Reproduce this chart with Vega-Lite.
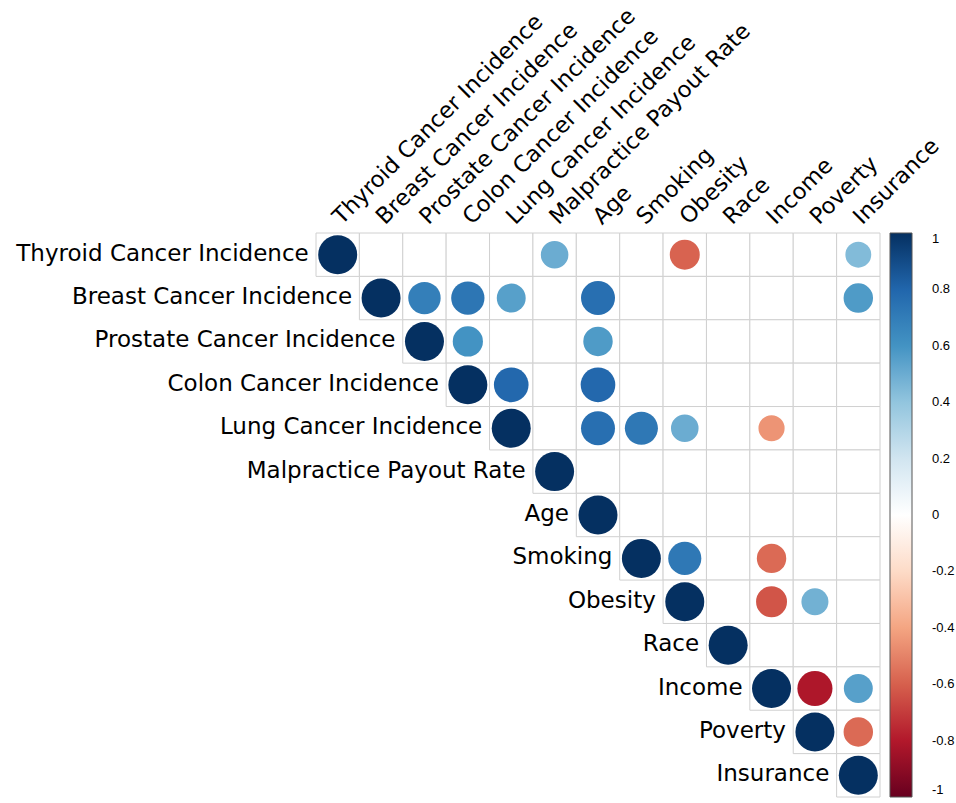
{
  "$schema": "https://vega.github.io/schema/vega-lite/v6.json",
  "width": 564,
  "height": 564,
  "autosize": {"type": "none"},
  "padding": {"left": 316, "top": 233, "right": 76, "bottom": 6},
  "background": "white",
  "config": {"view": {"stroke": null}, "font": "DejaVu Sans"},
  "datasets": {
    "vars": [
      {"name": "Thyroid Cancer Incidence"},
      {"name": "Breast Cancer Incidence"},
      {"name": "Prostate Cancer Incidence"},
      {"name": "Colon Cancer Incidence"},
      {"name": "Lung Cancer Incidence"},
      {"name": "Malpractice Payout Rate"},
      {"name": "Age"},
      {"name": "Smoking"},
      {"name": "Obesity"},
      {"name": "Race"},
      {"name": "Income"},
      {"name": "Poverty"},
      {"name": "Insurance"}
    ],
    "cells": [
      {"row": "Thyroid Cancer Incidence", "col": "Thyroid Cancer Incidence", "r": 1},
      {"row": "Thyroid Cancer Incidence", "col": "Breast Cancer Incidence", "r": null},
      {"row": "Thyroid Cancer Incidence", "col": "Prostate Cancer Incidence", "r": null},
      {"row": "Thyroid Cancer Incidence", "col": "Colon Cancer Incidence", "r": null},
      {"row": "Thyroid Cancer Incidence", "col": "Lung Cancer Incidence", "r": null},
      {"row": "Thyroid Cancer Incidence", "col": "Malpractice Payout Rate", "r": 0.5},
      {"row": "Thyroid Cancer Incidence", "col": "Age", "r": null},
      {"row": "Thyroid Cancer Incidence", "col": "Smoking", "r": null},
      {"row": "Thyroid Cancer Incidence", "col": "Obesity", "r": -0.59},
      {"row": "Thyroid Cancer Incidence", "col": "Race", "r": null},
      {"row": "Thyroid Cancer Incidence", "col": "Income", "r": null},
      {"row": "Thyroid Cancer Incidence", "col": "Poverty", "r": null},
      {"row": "Thyroid Cancer Incidence", "col": "Insurance", "r": 0.44},
      {"row": "Breast Cancer Incidence", "col": "Breast Cancer Incidence", "r": 1},
      {"row": "Breast Cancer Incidence", "col": "Prostate Cancer Incidence", "r": 0.69},
      {"row": "Breast Cancer Incidence", "col": "Colon Cancer Incidence", "r": 0.73},
      {"row": "Breast Cancer Incidence", "col": "Lung Cancer Incidence", "r": 0.55},
      {"row": "Breast Cancer Incidence", "col": "Malpractice Payout Rate", "r": null},
      {"row": "Breast Cancer Incidence", "col": "Age", "r": 0.76},
      {"row": "Breast Cancer Incidence", "col": "Smoking", "r": null},
      {"row": "Breast Cancer Incidence", "col": "Obesity", "r": null},
      {"row": "Breast Cancer Incidence", "col": "Race", "r": null},
      {"row": "Breast Cancer Incidence", "col": "Income", "r": null},
      {"row": "Breast Cancer Incidence", "col": "Poverty", "r": null},
      {"row": "Breast Cancer Incidence", "col": "Insurance", "r": 0.57},
      {"row": "Prostate Cancer Incidence", "col": "Prostate Cancer Incidence", "r": 1},
      {"row": "Prostate Cancer Incidence", "col": "Colon Cancer Incidence", "r": 0.6},
      {"row": "Prostate Cancer Incidence", "col": "Lung Cancer Incidence", "r": null},
      {"row": "Prostate Cancer Incidence", "col": "Malpractice Payout Rate", "r": null},
      {"row": "Prostate Cancer Incidence", "col": "Age", "r": 0.57},
      {"row": "Prostate Cancer Incidence", "col": "Smoking", "r": null},
      {"row": "Prostate Cancer Incidence", "col": "Obesity", "r": null},
      {"row": "Prostate Cancer Incidence", "col": "Race", "r": null},
      {"row": "Prostate Cancer Incidence", "col": "Income", "r": null},
      {"row": "Prostate Cancer Incidence", "col": "Poverty", "r": null},
      {"row": "Prostate Cancer Incidence", "col": "Insurance", "r": null},
      {"row": "Colon Cancer Incidence", "col": "Colon Cancer Incidence", "r": 1},
      {"row": "Colon Cancer Incidence", "col": "Lung Cancer Incidence", "r": 0.79},
      {"row": "Colon Cancer Incidence", "col": "Malpractice Payout Rate", "r": null},
      {"row": "Colon Cancer Incidence", "col": "Age", "r": 0.79},
      {"row": "Colon Cancer Incidence", "col": "Smoking", "r": null},
      {"row": "Colon Cancer Incidence", "col": "Obesity", "r": null},
      {"row": "Colon Cancer Incidence", "col": "Race", "r": null},
      {"row": "Colon Cancer Incidence", "col": "Income", "r": null},
      {"row": "Colon Cancer Incidence", "col": "Poverty", "r": null},
      {"row": "Colon Cancer Incidence", "col": "Insurance", "r": null},
      {"row": "Lung Cancer Incidence", "col": "Lung Cancer Incidence", "r": 1},
      {"row": "Lung Cancer Incidence", "col": "Malpractice Payout Rate", "r": null},
      {"row": "Lung Cancer Incidence", "col": "Age", "r": 0.76},
      {"row": "Lung Cancer Incidence", "col": "Smoking", "r": 0.72},
      {"row": "Lung Cancer Incidence", "col": "Obesity", "r": 0.5},
      {"row": "Lung Cancer Incidence", "col": "Race", "r": null},
      {"row": "Lung Cancer Incidence", "col": "Income", "r": -0.45},
      {"row": "Lung Cancer Incidence", "col": "Poverty", "r": null},
      {"row": "Lung Cancer Incidence", "col": "Insurance", "r": null},
      {"row": "Malpractice Payout Rate", "col": "Malpractice Payout Rate", "r": 1},
      {"row": "Malpractice Payout Rate", "col": "Age", "r": null},
      {"row": "Malpractice Payout Rate", "col": "Smoking", "r": null},
      {"row": "Malpractice Payout Rate", "col": "Obesity", "r": null},
      {"row": "Malpractice Payout Rate", "col": "Race", "r": null},
      {"row": "Malpractice Payout Rate", "col": "Income", "r": null},
      {"row": "Malpractice Payout Rate", "col": "Poverty", "r": null},
      {"row": "Malpractice Payout Rate", "col": "Insurance", "r": null},
      {"row": "Age", "col": "Age", "r": 1},
      {"row": "Age", "col": "Smoking", "r": null},
      {"row": "Age", "col": "Obesity", "r": null},
      {"row": "Age", "col": "Race", "r": null},
      {"row": "Age", "col": "Income", "r": null},
      {"row": "Age", "col": "Poverty", "r": null},
      {"row": "Age", "col": "Insurance", "r": null},
      {"row": "Smoking", "col": "Smoking", "r": 1},
      {"row": "Smoking", "col": "Obesity", "r": 0.72},
      {"row": "Smoking", "col": "Race", "r": null},
      {"row": "Smoking", "col": "Income", "r": -0.57},
      {"row": "Smoking", "col": "Poverty", "r": null},
      {"row": "Smoking", "col": "Insurance", "r": null},
      {"row": "Obesity", "col": "Obesity", "r": 1},
      {"row": "Obesity", "col": "Race", "r": null},
      {"row": "Obesity", "col": "Income", "r": -0.63},
      {"row": "Obesity", "col": "Poverty", "r": 0.48},
      {"row": "Obesity", "col": "Insurance", "r": null},
      {"row": "Race", "col": "Race", "r": 1},
      {"row": "Race", "col": "Income", "r": null},
      {"row": "Race", "col": "Poverty", "r": null},
      {"row": "Race", "col": "Insurance", "r": null},
      {"row": "Income", "col": "Income", "r": 1},
      {"row": "Income", "col": "Poverty", "r": -0.81},
      {"row": "Income", "col": "Insurance", "r": 0.55},
      {"row": "Poverty", "col": "Poverty", "r": 1},
      {"row": "Poverty", "col": "Insurance", "r": -0.57},
      {"row": "Insurance", "col": "Insurance", "r": 1}
    ]
  },
  "layer": [
    {
      "data": {"name": "cells"},
      "mark": {"type": "rect", "fill": "white", "stroke": "#d0d0d0", "strokeWidth": 1},
      "encoding": {
        "x": {
          "field": "col", "type": "nominal",
          "scale": {"domain": ["Thyroid Cancer Incidence", "Breast Cancer Incidence", "Prostate Cancer Incidence", "Colon Cancer Incidence", "Lung Cancer Incidence", "Malpractice Payout Rate", "Age", "Smoking", "Obesity", "Race", "Income", "Poverty", "Insurance"], "paddingInner": 0, "paddingOuter": 0},
          "axis": {"orient": "top", "title": null, "domain": false, "ticks": false, "grid": false, "labelAngle": -45, "labelAlign": "left", "labelBaseline": "alphabetic", "labelPadding": 8, "labelOffset": 4, "labelFontSize": 22.5, "labelFont": "DejaVu Sans", "labelColor": "black", "labelLimit": 600, "labelOverlap": false}
        },
        "y": {
          "field": "row", "type": "nominal",
          "scale": {"domain": ["Thyroid Cancer Incidence", "Breast Cancer Incidence", "Prostate Cancer Incidence", "Colon Cancer Incidence", "Lung Cancer Incidence", "Malpractice Payout Rate", "Age", "Smoking", "Obesity", "Race", "Income", "Poverty", "Insurance"], "paddingInner": 0, "paddingOuter": 0},
          "axis": null
        }
      }
    },
    {
      "data": {"name": "cells"},
      "transform": [{"filter": "isValid(datum.r)"}],
      "mark": {"type": "point", "shape": "circle", "filled": true, "opacity": 1},
      "encoding": {
        "x": {"field": "col", "type": "nominal"},
        "y": {"field": "row", "type": "nominal", "axis": null},
        "size": {"field": "r", "type": "quantitative", "scale": {"type": "linear", "domain": [-1, 0, 1], "range": [1521, 0, 1521]}, "legend": null},
        "color": {
          "field": "r", "type": "quantitative",
          "scale": {"type": "linear", "domain": [-1, -0.8, -0.6, -0.4, -0.2, 0, 0.2, 0.4, 0.6, 0.8, 1], "range": ["#67001F", "#B2182B", "#D6604D", "#F4A582", "#FDDBC7", "#FFFFFF", "#D1E5F0", "#92C5DE", "#4393C3", "#2166AC", "#053061"], "interpolate": "rgb"},
          "legend": {"orient": "none", "legendX": 574, "legendY": 0, "direction": "vertical", "title": null, "padding": 0, "gradientLength": 564, "gradientThickness": 22, "gradientStrokeColor": "#555555", "gradientStrokeWidth": 1, "values": [1, 0.8, 0.6, 0.4, 0.2, 0, -0.2, -0.4, -0.6, -0.8, -1], "labelFont": "Liberation Sans", "labelFontSize": 13, "labelColor": "black", "labelAlign": "center", "labelBaseline": "middle", "labelOffset": 20, "labelOverlap": false, "labelExpr": "datum.value < 0 ? '-' + format(-datum.value, '') : format(datum.value, '')"}
        }
      }
    },
    {
      "data": {"name": "vars"},
      "mark": {"type": "text", "align": "right", "baseline": "middle", "dx": -29, "dy": -1, "fontSize": 23, "font": "DejaVu Sans", "color": "black"},
      "encoding": {
        "x": {"field": "name", "type": "nominal"},
        "y": {"field": "name", "type": "nominal", "axis": null},
        "text": {"field": "name"}
      }
    }
  ]
}
